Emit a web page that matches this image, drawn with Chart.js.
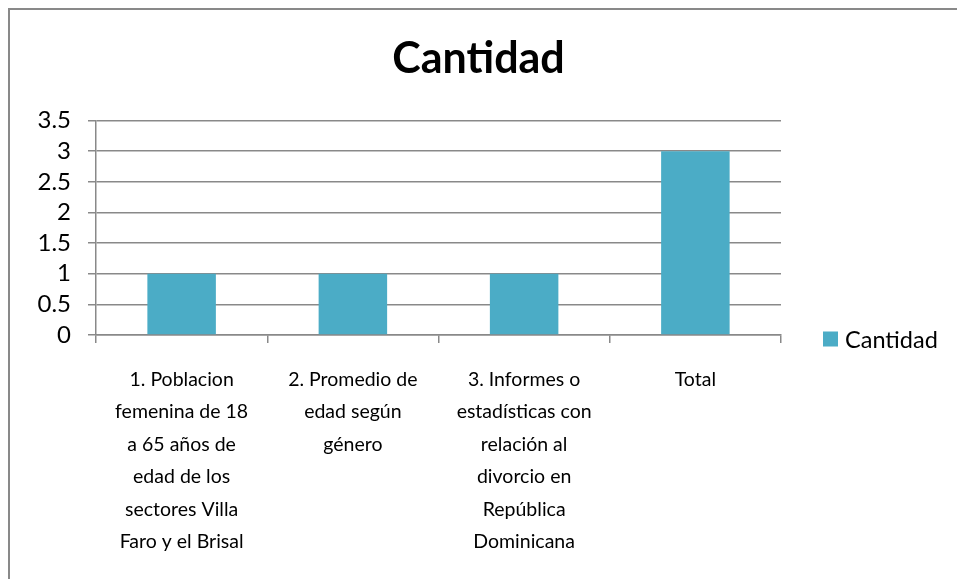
<!DOCTYPE html>
<html>
<head>
<meta charset="utf-8">
<script src="https://cdn.jsdelivr.net/npm/chart.js@4"></script>
<style>
  html, body { margin: 0; padding: 0; background: #fff; }
  #frame { position: absolute; left: 8px; top: 8px; width: 949px; height: 571px;
           border-left: 2px solid #898989; border-top: 2px solid #898989; box-sizing: border-box; }
  #wrap { position: absolute; left: 0; top: 0; width: 957px; height: 579px; }
</style>
</head>
<body>
<div id="frame"></div>
<div id="wrap"><canvas id="chart"></canvas></div>
<script>
const categories = [
  ['1. Poblacion', 'femenina de 18', 'a 65 años de', 'edad de los', 'sectores Villa', 'Faro y el Brisal'],
  ['2. Promedio de', 'edad según', 'género'],
  ['3. Informes o', 'estadísticas con', 'relación al', 'divorcio en', 'República', 'Dominicana'],
  ['Total']
];
const cantidad = [1, 1, 1, 3];
const yTicks = [0, 0.5, 1, 1.5, 2, 2.5, 3, 3.5];

const seriesName = 'Cantidad';
const barColor = '#4BACC6';
const gridColor = '#898989';
const fontFamily = 'Lato, "Open Sans", sans-serif';

// legend drawn by hand, next to the bottom of the plot
const sideLegend = {
  id: 'sideLegend',
  afterDraw(chart) {
    const { ctx, chartArea } = chart;
    const ds = chart.data.datasets[0];
    const x = chartArea.right + 42;
    const y = chartArea.bottom + 4;
    ctx.save();
    ctx.fillStyle = ds.backgroundColor;
    ctx.fillRect(x, y - 7.5, 15, 15);
    ctx.fillStyle = '#000';
    ctx.font = '23.5px ' + fontFamily;
    ctx.textBaseline = 'middle';
    ctx.fillText(ds.label, x + 22, y + 1);
    ctx.restore();
  }
};

new Chart(document.getElementById('chart'), {
  type: 'bar',
  data: {
    labels: categories,
    datasets: [{
      label: seriesName,
      data: cantidad,
      backgroundColor: barColor,
      barPercentage: 0.4,
      categoryPercentage: 1
    }]
  },
  options: {
    responsive: true,
    maintainAspectRatio: false,
    animation: false,
    layout: { padding: 0 },
    plugins: {
      legend: { display: false },
      tooltip: { enabled: false },
      title: {
        display: true,
        text: seriesName,
        color: '#000',
        font: { family: fontFamily, size: 43, weight: 'bold', lineHeight: 1.2 },
        padding: { top: 33, bottom: 36 }
      }
    },
    scales: {
      y: {
        min: 0,
        max: 3.5,
        afterBuildTicks(scale) { scale.ticks = yTicks.map(v => ({ value: v })); },
        afterFit(scale) { scale.width = 96; },
        border: { color: gridColor, width: 1.5 },
        grid: { color: gridColor, lineWidth: 1.5, tickLength: 8 },
        ticks: {
          color: '#000',
          padding: 17,
          autoSkip: false,
          font: { family: fontFamily, size: 24 },
          callback: v => String(v)
        }
      },
      // empty axis on the right, only to keep room for the legend
      yRight: {
        position: 'right',
        afterFit(scale) { scale.width = 176; },
        border: { display: false },
        grid: { drawOnChartArea: false, drawTicks: false },
        ticks: { display: false }
      },
      x: {
        afterFit(scale) { scale.height = 244; },
        border: { color: gridColor, width: 1.5 },
        grid: { color: gridColor, lineWidth: 1.5, tickLength: 8, drawOnChartArea: false, offset: true },
        ticks: {
          color: '#000',
          padding: 20,
          maxRotation: 0,
          autoSkip: false,
          font: { family: fontFamily, size: 19.5, lineHeight: '32.5px' }
        }
      }
    }
  },
  plugins: [sideLegend]
});
</script>
</body>
</html>
